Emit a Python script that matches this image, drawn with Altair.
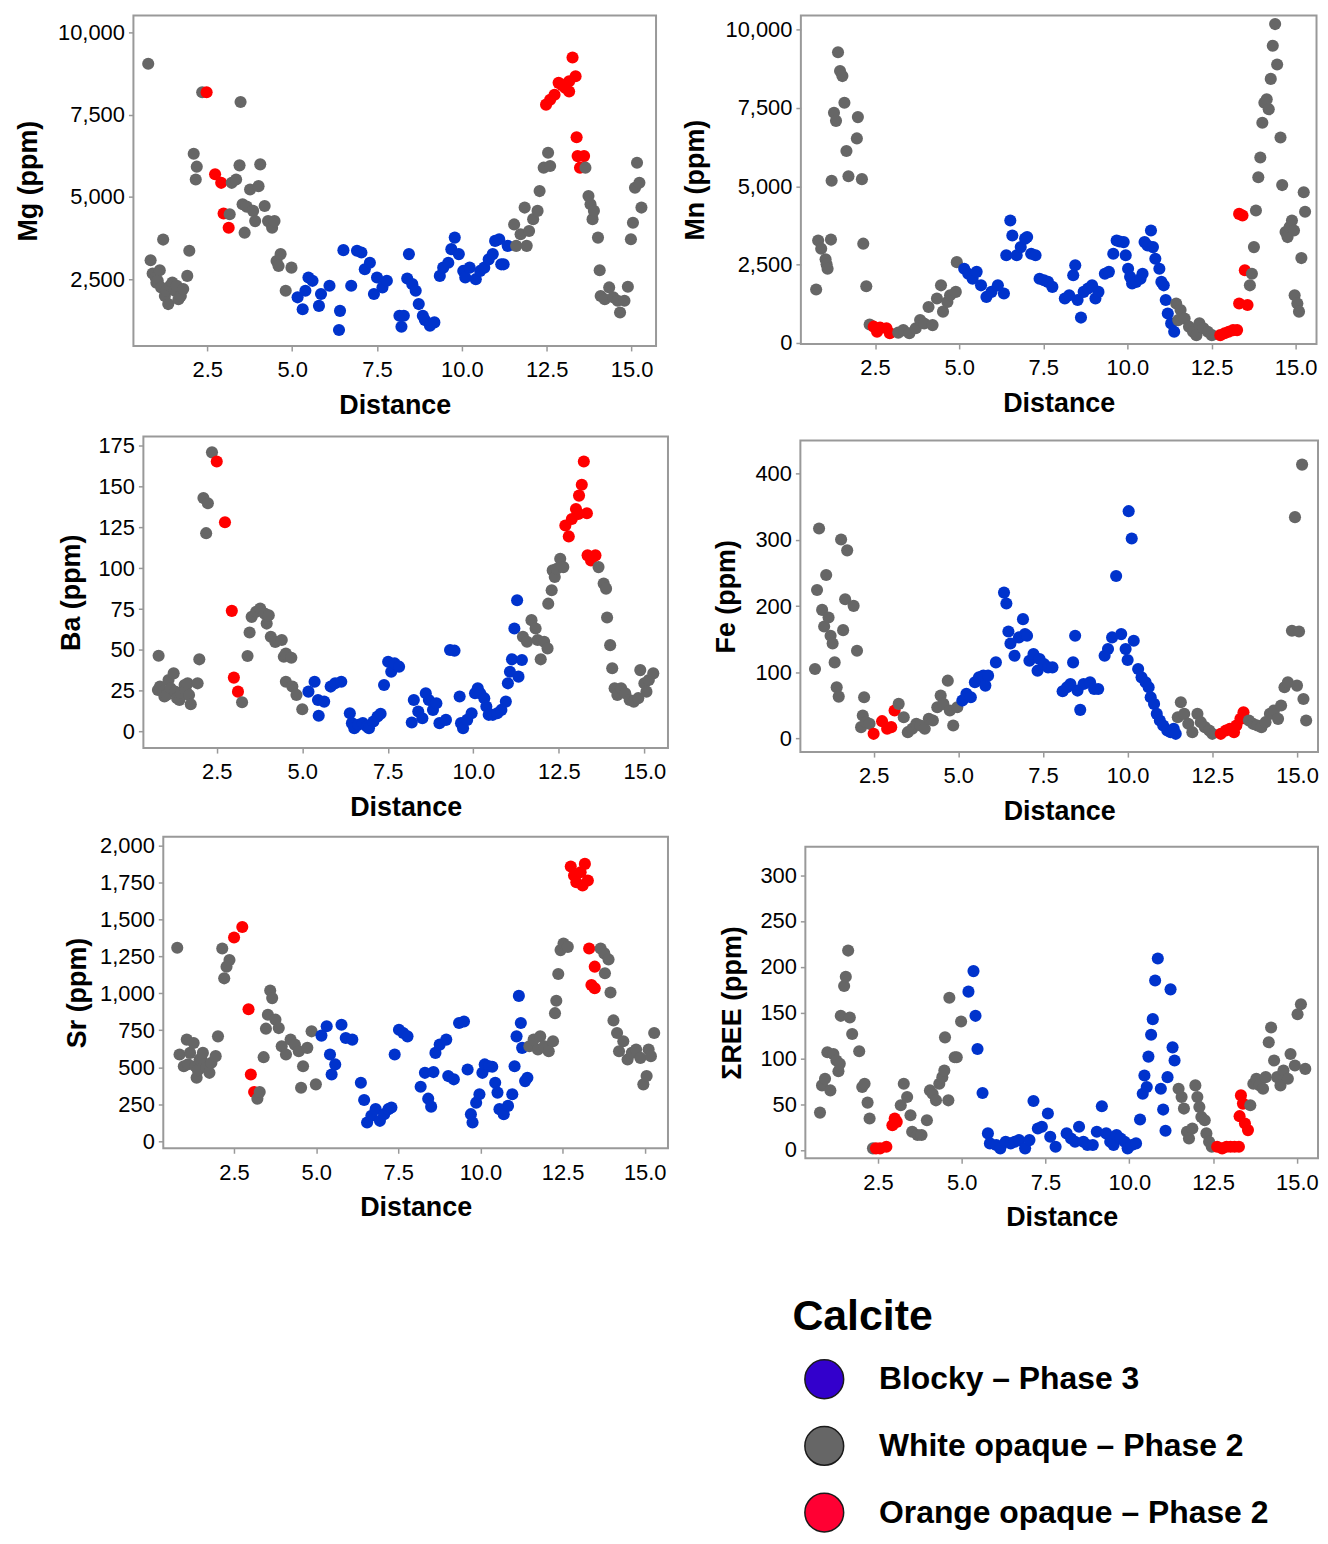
import altair as alt
import pandas as pd

PHASES = ["Blocky – Phase 3", "White opaque – Phase 2", "Orange opaque – Phase 2"]
POINT_COLORS = ["#0033CC", "#666666", "#FF0000"]
LEGEND_COLORS = ["#3300CC", "#666666", "#FF0033"]
LEGEND_TITLE = "Calcite"
X_TICKS = [2.5, 5.0, 7.5, 10.0, 12.5, 15.0]

# ---------------- Mg ----------------
MG_WHITE = [[0.76,9040],[0.83,3085],[0.89,2680],[0.98,2560],[1.0,2400],[1.04,2460],[1.1,2780],[1.14,2260],[1.2,3710],
            [1.25,2000],[1.29,2160],[1.35,1755],[1.4,2300],[1.47,2410],[1.54,2160],[1.6,2310],[1.65,1900],[1.72,2000],
            [1.79,2210],[1.91,2610],[1.97,3370],[2.1,6310],[2.16,5530],[2.19,5920],[2.35,8175],
            [3.16,4480],[3.22,5430],[3.35,5530],[3.45,5960],[3.48,7880],[3.54,4780],[3.6,3920],[3.66,4710],[3.76,5230],
            [3.85,4580],[3.91,4270],[4.01,5330],[4.06,5990],[4.19,4730],[4.29,4270],[4.41,4070],[4.48,4270],[4.54,3060],
            [4.6,2910],[4.66,3270],[4.81,2160],[4.98,2860],
            [11.54,4170],[11.6,3520],[11.73,3870],[11.85,4680],[11.91,3520],[11.98,3970],[12.1,4330],[12.23,4580],
            [12.29,5180],[12.41,5890],[12.54,6340],[12.6,5940],
            [13.64,5890],[13.73,5030],[13.79,4780],[13.85,4330],[13.89,4580],[14.01,3770],[14.06,2780],[14.09,2000],
            [14.21,1900],[14.34,2260],[14.46,1960],[14.59,1855],[14.66,1500],[14.79,1855],[14.89,2280],[14.98,3720],
            [15.04,4220],[15.1,5280],[15.16,6040],[15.23,5430],[15.29,4680]]
MG_ORANGE = [[2.48,8175],[2.73,5690],[2.91,5430],[2.98,4500],[3.13,4070],
             [12.48,7800],[12.6,7950],[12.73,8100],[12.85,8460],[12.95,8400],[13.04,8310],[13.16,8200],[13.16,8510],
             [13.26,9230],[13.35,8660],[13.38,6810],[13.41,6240],[13.48,5890],[13.6,6240]]
MG_BLOCKY = [[5.16,1960],[5.31,1600],[5.39,2160],[5.48,2560],[5.6,2460],[5.79,1700],[5.85,2060],[6.1,2310],[6.38,970],
             [6.41,1550],[6.51,3390],[6.74,2310],[6.91,3370],[7.04,3320],[7.14,2810],[7.29,3010],[7.41,2060],[7.5,2560],
             [7.66,2260],[7.79,2460],[8.16,1400],[8.22,1070],[8.29,1400],[8.39,2530],[8.44,3270],[8.54,2360],[8.64,2160],
             [8.73,1755],[8.85,1400],[8.91,1270],[9.06,1100],[9.19,1200],[9.35,2610],[9.45,2860],[9.6,3010],[9.69,3420],
             [9.79,3770],[9.91,3270],[10.04,2760],[10.1,2560],[10.23,2860],[10.41,2510],[10.54,2760],[10.66,2860],
             [10.79,3110],[10.91,3270],[10.98,3670],[11.1,3720],[11.16,2960],[11.23,2960],[11.35,3520]]

# ---------------- Mn ----------------
MN_WHITE = [[0.75,1705],[0.81,3270],[0.9,3010],[1.03,2670],[1.06,2510],[1.09,2370],[1.19,3300],[1.21,5180],[1.28,7350],
            [1.34,7090],[1.4,9280],[1.46,8680],[1.53,8520],[1.59,7670],[1.65,6130],[1.71,5320],[1.96,6530],[1.99,7210],
            [2.11,5230],[2.15,3170],[2.24,1810],[2.34,590],
            [3.19,330],[3.34,410],[3.52,310],[3.71,470],[3.84,730],[3.96,620],[4.09,1150],[4.21,570],[4.34,1420],
            [4.46,1840],[4.52,1000],[4.65,1310],[4.73,1525],[4.9,1630],[4.93,2580],
            [11.45,1260],[11.51,730],[11.58,1050],[11.7,780],[11.83,520],[11.95,360],[12.05,250],[12.14,625],
            [12.26,470],[12.39,360],[12.51,250],
            [13.64,1840],[13.7,2210],[13.76,3060],[13.82,4230],[13.89,5290],[13.95,5920],[14.01,7030],[14.07,7670],
            [14.14,7780],[14.2,7460],[14.26,8430],[14.32,9490],[14.39,10180],[14.45,8890],[14.55,6560],[14.6,5040],
            [14.7,3540],[14.76,3380],[14.82,3700],[14.89,3910],[14.95,3590],[14.97,1525],[15.05,1260],[15.1,1000],
            [15.17,2710],[15.24,4810],[15.28,4190]]
MN_ORANGE = [[2.46,520],[2.56,360],[2.65,490],[2.84,470],[2.94,310],
             [12.76,250],[12.89,310],[13.01,360],[13.14,410],[13.26,410],[13.32,4120],[13.32,1260],[13.42,4070],
             [13.49,2320],[13.57,1210]]
MN_BLOCKY = [[5.15,2370],[5.27,2210],[5.4,2050],[5.52,2270],[5.65,1840],[5.81,1470],[5.96,1630],[6.15,1840],[6.33,1580],
             [6.4,2800],[6.52,3910],[6.58,3430],[6.71,2800],[6.83,3060],[6.96,3330],[7.02,3380],[7.14,2850],[7.27,2800],
             [7.39,2050],[7.52,2000],[7.64,1950],[7.77,1790],[8.14,1420],[8.27,1525],[8.39,2160],[8.45,2480],[8.52,1370],
             [8.62,810],[8.7,1630],[8.83,1740],[8.95,1840],[9.05,1420],[9.14,1630],[9.33,2210],[9.45,2270],[9.58,2850],
             [9.68,3270],[9.77,3240],[9.89,3220],[9.95,2800],[10.02,2370],[10.08,2110],[10.14,1900],[10.26,1950],
             [10.39,2050],[10.45,2210],[10.51,3220],[10.6,3110],[10.7,3590],[10.76,3060],[10.83,2690],[10.95,2370],
             [11.01,1950],[11.08,1840],[11.14,1370],[11.2,940],[11.3,625],[11.39,360]]

# ---------------- Ba ----------------
BA_WHITE = [[0.78,25.4],[0.8,46.4],[0.84,27.5],[0.94,24.4],[0.97,21.4],[1.03,22.4],[1.09,31.5],[1.15,26.5],[1.24,35.6],
            [1.28,24.4],[1.34,20.4],[1.41,19.3],[1.46,23.8],[1.56,28.5],[1.59,25.4],[1.65,29.5],[1.69,22.4],[1.74,16.7],
            [1.94,29.5],[1.99,44.2],[2.11,143],[2.19,121.5],[2.24,139.8],[2.36,171],
            [3.24,17.9],[3.4,46.2],[3.46,60.6],[3.52,70.2],[3.65,73.3],[3.77,75.3],[3.9,72.2],[3.96,66.1],[4.02,71.2],
            [4.08,58],[4.21,54.9],[4.4,56],[4.46,45.8],[4.52,47.8],[4.52,30.5],[4.68,45.2],[4.71,27.5],[4.83,22.4],[5.0,13.6],
            [11.45,58],[11.57,55],[11.7,68.2],[11.82,63.1],[11.88,56],[11.97,44.2],[12.07,55],[12.17,50.9],[12.19,78.3],
            [12.29,86.5],[12.32,98.7],[12.38,94.6],[12.44,99.7],[12.54,105.8],[12.63,100.7],
            [13.66,100.7],[13.81,90.6],[13.88,87.5],[13.91,69.8],[14.0,52.9],[14.06,38.7],[14.13,26.5],[14.21,22.4],
            [14.32,26.5],[14.44,23.4],[14.57,19.3],[14.69,18.3],[14.82,20.4],[14.88,37.6],[15.0,29.5],[15.06,24.4],
            [15.13,31.5],[15.26,35.6]]
BA_ORANGE = [[2.5,165.4],[2.74,128.2],[2.94,73.9],[3.0,33],[3.12,24.4],
             [12.69,126.2],[12.79,119.5],[12.88,130.2],[13.0,136.3],[13.07,133.3],[13.09,144.5],[13.17,151.2],
             [13.23,165.4],[13.32,133.7],[13.34,107.9],[13.44,104.8],[13.57,107.9]]
BA_BLOCKY = [[5.18,24.4],[5.36,30.5],[5.46,19.3],[5.48,9.6],[5.64,18.3],[5.83,27.5],[5.96,29.5],[6.14,30.5],[6.39,11.2],
             [6.45,5.1],[6.52,2],[6.64,4.1],[6.77,5.1],[6.89,3.1],[6.95,2],[7.08,6.1],[7.2,9.2],[7.29,10.8],[7.39,28.5],
             [7.51,42.7],[7.6,36.6],[7.7,41.7],[7.83,39.7],[8.2,5.5],[8.26,19.3],[8.39,12.2],[8.51,8.1],[8.61,23.4],
             [8.7,19.3],[8.82,13.2],[8.92,17.3],[9.01,5.1],[9.2,7.1],[9.32,49.9],[9.45,49.5],[9.6,21.4],[9.64,5.1],
             [9.7,2],[9.82,7.1],[9.95,11.2],[10.05,23.4],[10.13,26.5],[10.2,23.4],[10.32,20.4],[10.38,15.3],[10.45,10.2],
             [10.57,10.2],[10.7,11.2],[10.82,13.2],[10.95,18.3],[11.01,29.5],[11.07,36.6],[11.13,44.2],[11.2,63.1],
             [11.28,80.4],[11.32,33.6],[11.42,43.8]]

# ---------------- Fe ----------------
FE_WHITE = [[0.77,104.9],[0.83,224.3],[0.89,317.2],[0.98,194.2],[1.04,169.1],[1.1,246.9],[1.17,182.7],[1.23,155.1],
            [1.29,143.5],[1.35,114.9],[1.41,77.3],[1.47,63.2],[1.54,300.6],[1.6,163.6],[1.66,210.3],[1.72,284.1],
            [1.91,200.3],[2.01,132.5],[2.13,17.1],[2.18,34.6],[2.22,62.2],[2.28,24.6],[2.38,22.1],
            [3.24,52.2],[3.39,32.1],[3.51,9.5],[3.64,14.6],[3.76,22.1],[3.88,19.6],[4.01,14.6],[4.13,29.6],[4.25,27.1],
            [4.38,47.2],[4.48,64.7],[4.56,52.2],[4.69,87.3],[4.75,42.2],[4.85,19.6],[4.97,47.2],
            [11.48,32.1],[11.57,54.7],[11.67,37.1],[11.79,22.1],[11.91,9.5],[12.06,37.1],[12.16,24.6],[12.28,17.1],
            [12.41,12],[12.5,7],
            [13.58,27.1],[13.7,22.1],[13.83,19.6],[13.95,17.1],[14.07,24.6],[14.2,37.1],[14.32,42.2],[14.44,29.6],
            [14.53,49.7],[14.63,77.3],[14.73,84.8],[14.85,162.6],[14.94,334.3],[15.0,79.8],[15.06,161.6],[15.15,413.6],
            [15.19,59.7],[15.27,27.1]]
FE_ORANGE = [[2.5,7],[2.75,26.1],[2.9,14.6],[3.02,17.1],[3.12,42.2],
             [12.75,7],[12.9,12],[13.02,14.6],[13.14,9.5],[13.21,19.6],[13.33,29.6],[13.42,39.6]]
FE_BLOCKY = [[5.12,57.2],[5.24,67.3],[5.37,62.2],[5.49,84.8],[5.61,92.3],[5.74,94.9],[5.8,79.8],[5.88,94.9],[6.11,114.9],
             [6.35,220.3],[6.42,203.8],[6.48,161.6],[6.54,143.5],[6.66,125],[6.79,152.6],[6.91,180.2],[6.97,157.6],
             [7.03,155.1],[7.1,117.4],[7.22,127.5],[7.34,102.4],[7.4,119.9],[7.53,112.4],[7.65,107.4],[7.78,107.4],
             [8.08,71.3],[8.21,77.3],[8.31,82.3],[8.39,114.9],[8.45,155.1],[8.52,72.3],[8.6,43.2],[8.7,82.3],[8.89,84.8],
             [9.01,74.8],[9.13,74.8],[9.32,125],[9.42,135],[9.54,152.6],[9.66,245.4],[9.81,157.6],[9.94,135],[10.0,118.4],
             [10.03,343.3],[10.12,302.1],[10.18,147.6],[10.31,104.9],[10.41,92.3],[10.53,84.8],[10.62,77.3],[10.68,62.2],
             [10.78,52.2],[10.86,37.1],[10.95,27.1],[11.05,19.6],[11.17,12],[11.27,9.5],[11.36,14.6],[11.42,7]]

# ---------------- Sr ----------------
SR_WHITE = [[0.77,1309],[0.84,586],[0.97,507],[1.06,687],[1.1,520],[1.16,597],[1.27,664],[1.32,507],[1.36,429],[1.4,480],
            [1.45,552],[1.5,560],[1.55,597],[1.66,496],[1.75,462],[1.81,530],[1.94,575],[2.01,709],[2.14,1304],[2.2,1102],
            [2.27,1181],[2.36,1226],
            [3.21,287],[3.28,332],[3.4,568],[3.47,761],[3.53,855],[3.6,1019],[3.66,968],[3.76,822],[3.86,765],[3.95,642],
            [4.08,586],[4.22,687],[4.35,653],[4.47,608],[4.54,361],[4.6,507],[4.73,631],[4.86,743],[4.99,384],
            [11.49,642],[11.62,687],[11.75,620],[11.82,709],[11.95,642],[12.08,608],[12.21,676],[12.27,866],[12.31,950],
            [12.37,1131],[12.44,1293],[12.53,1338],[12.66,1315],
            [13.66,1304],[13.77,1271],[13.79,1136],[13.9,1230],[13.96,1006],[14.05,817],[14.16,732],[14.22,608],
            [14.35,676],[14.48,552],[14.61,597],[14.74,620],[14.87,563],[14.96,384],[15.06,440],[15.12,620],[15.19,575],
            [15.29,732]]
SR_ORANGE = [[2.5,1378],[2.75,1450],[2.94,893],[3.01,451],[3.11,332],
             [12.75,1859],[12.85,1798],[12.92,1753],[13.05,1820],[13.11,1731],[13.18,1877],[13.27,1764],[13.31,1304],
             [13.38,1057],[13.48,1181],[13.48,1035]]
SR_BLOCKY = [[5.16,714],[5.32,777],[5.42,586],[5.47,451],[5.58,519],[5.77,788],[5.9,698],[6.1,687],[6.36,395],[6.46,278],
             [6.55,126],[6.68,171],[6.81,216],[6.94,137],[7.07,182],[7.2,216],[7.29,227],[7.39,586],[7.52,754],[7.65,732],
             [7.78,709],[8.18,368],[8.31,462],[8.41,287],[8.5,233],[8.57,467],[8.63,597],[8.76,653],[8.96,687],[9.02,440],
             [9.19,418],[9.35,799],[9.5,810],[9.61,485],[9.71,182],[9.76,126],[9.87,260],[9.97,317],[10.06,462],[10.13,519],
             [10.26,507],[10.36,503],[10.45,395],[10.52,328],[10.58,216],[10.71,182],[10.84,238],[10.97,317],[11.04,507],
             [11.1,709],[11.17,983],[11.23,799],[11.27,631],[11.36,406],[11.43,429]]

# ---------------- ΣREE ----------------
REE_WHITE = [[0.77,40.8],[0.83,70.5],[0.92,77.7],[0.99,106.6],[1.08,65],[1.17,104.8],[1.26,97.6],[1.32,86],[1.36,94],
             [1.39,146.4],[1.49,178.9],[1.54,189],[1.61,217.6],[1.66,144.6],[1.73,126.5],[1.94,107.7],[2.03,68.7],
             [2.1,72.3],[2.19,51.7],[2.25,34.3],[2.35,1.8],
             [3.18,48.8],[3.27,72.3],[3.37,57.8],[3.47,37.9],[3.52,19.9],[3.68,16.3],[3.8,16.3],[3.96,32.5],[4.05,65],
             [4.13,61.4],[4.23,54.2],[4.33,72.3],[4.42,79.5],[4.48,86.7],[4.5,122.9],[4.6,54.2],[4.63,166.2],[4.79,101.2],
             [4.85,101.2],[4.98,140.2],
             [11.47,66.9],[11.56,57.8],[11.63,45.2],[11.72,19.9],[11.78,12.6],[11.88,23.5],[11.97,70.5],[12.03,57.8],
             [12.09,47],[12.15,36.1],[12.25,32.5],[12.3,18.1],[12.38,9],[12.46,3.6],
             [13.61,48.8],[13.7,72.3],[13.79,77.7],[13.89,70.5],[13.99,66.9],[14.07,79.5],[14.16,117.5],[14.23,133.7],
             [14.32,97.6],[14.41,79.5],[14.51,70.5],[14.6,86.7],[14.73,77.7],[14.81,104.8],[14.94,92.2],[15.02,148.2],
             [15.12,159],[15.25,88.5]]
REE_ORANGE = [[2.44,1.8],[2.56,1.8],[2.75,3.6],[2.93,27.1],[3.0,34.3],[3.06,30.7],
              [12.62,3.6],[12.77,1.8],[12.9,3.6],[13.02,3.6],[13.14,3.6],[13.27,3.6],[13.29,36.9],[13.33,59.6],
              [13.39,50.6],[13.45,28.9],[13.54,21.7]]
REE_BLOCKY = [[5.2,172.8],[5.35,195.2],[5.41,146.4],[5.47,110.2],[5.62,62.2],[5.78,18.1],[5.84,7.2],[6.03,5.4],[6.15,1.8],
              [6.31,9],[6.46,7.2],[6.58,9],[6.71,10.8],[6.89,1.8],[7.02,10.8],[7.14,53.5],[7.27,23.5],[7.39,25.3],
              [7.57,39.8],[7.64,14.5],[7.8,3.6],[8.13,18.1],[8.26,12.6],[8.38,9],[8.5,25.3],[8.63,9],[8.75,5.4],[8.91,5.4],
              [9.03,19.9],[9.18,47.7],[9.31,18.1],[9.43,9],[9.53,5.4],[9.62,16.3],[9.74,12.6],[9.86,9],[9.95,1.8],
              [10.07,5.4],[10.2,7.2],[10.32,33.2],[10.4,61.4],[10.45,81.3],[10.52,68.7],[10.57,101.9],[10.65,125.8],
              [10.7,142.8],[10.77,185],[10.85,208.9],[10.94,66.9],[11.01,44.1],[11.08,21],[11.14,79.5],[11.23,175.3],
              [11.29,112],[11.35,97.6]]

FONT = "Liberation Sans"


def frame(blocky, white, orange):
    rows = []
    for phase, pts in zip(PHASES, [blocky, white, orange]):
        for d, v in pts:
            rows.append({"dist": d, "val": v, "phase": phase})
    df = pd.DataFrame(rows).sort_values("dist", kind="stable").reset_index(drop=True)
    df["ord"] = range(len(df))
    return df


def panel(title, blocky, white, orange, xdom, ydom, yticks, width, height, ext):
    df = frame(blocky, white, orange)
    return alt.Chart(df).mark_circle(size=148, opacity=1, clip=True).encode(
        x=alt.X("dist:Q", scale=alt.Scale(domain=xdom, nice=False, zero=False),
                axis=alt.Axis(values=X_TICKS, format=".1f", title="Distance", labelFlush=False,
                              labelOverlap=False)),
        y=alt.Y("val:Q", scale=alt.Scale(domain=ydom, nice=False, zero=False),
                axis=alt.Axis(values=yticks, format=",.0f", title=title, minExtent=ext, maxExtent=ext,
                              labelOverlap=False)),
        color=alt.Color("phase:N", scale=alt.Scale(domain=PHASES, range=POINT_COLORS), legend=None),
        order=alt.Order("ord:Q"),
    ).properties(width=width, height=height)


def spacer(w, h=4):
    return alt.Chart(pd.DataFrame({"s": [0]})).mark_point(size=1, opacity=0).encode(
        x=alt.value(0.5), y=alt.value(0.5)
    ).properties(width=w, height=h, view=alt.ViewBackground(stroke="transparent", strokeWidth=0))


def lead(w, chart):
    # horizontal offset: empty cell of width w before the panel
    return alt.hconcat(spacer(w), chart, spacing=0)


def drop(dy, chart):
    # vertical offset: empty cell of height 1 above the panel
    return alt.vconcat(spacer(1, 1), chart, spacing=dy - 1)


mg = panel("Mg (ppm)", MG_BLOCKY, MG_WHITE, MG_ORANGE, [0.324, 15.72], [486, 10503],
           [2500, 5000, 7500, 10000], 525, 332, 91)
mn = panel("Mn (ppm)", MN_BLOCKY, MN_WHITE, MN_ORANGE, [0.296, 15.62], [-32, 10455],
           [0, 2500, 5000, 7500, 10000], 518, 330, 92)
ba = panel("Ba (ppm)", BA_BLOCKY, BA_WHITE, BA_ORANGE, [0.355, 15.69], [-10.2, 180.7],
           [0, 25, 50, 75, 100, 125, 150, 175], 527, 313, 58)
fe = panel("Fe (ppm)", FE_BLOCKY, FE_WHITE, FE_ORANGE, [0.338, 15.62], [-20.6, 450],
           [0, 100, 200, 300, 400], 520, 313, 60)
sr = panel("Sr (ppm)", SR_BLOCKY, SR_WHITE, SR_ORANGE, [0.345, 15.71], [-49, 2061],
           [0, 250, 500, 750, 1000, 1250, 1500, 1750, 2000], 507, 313, 72)
ree = panel("ΣREE (ppm)", REE_BLOCKY, REE_WHITE, REE_ORANGE, [0.333, 15.63], [-9, 331],
            [0, 50, 100, 150, 200, 250, 300], 515, 313, 59)

# ---------------- legend ----------------
leg_df = pd.DataFrame({"label": PHASES, "color": LEGEND_COLORS})
leg_base = alt.Chart(leg_df).encode(
    y=alt.Y("label:N", sort=PHASES, axis=None,
            scale=alt.Scale(type="point", range=[140, 274], padding=0))
)
leg_circles = leg_base.mark_circle(size=1520, opacity=1, stroke="#1a1a1a", strokeWidth=1.5).encode(
    x=alt.value(815), color=alt.Color("color:N", scale=None)
)
leg_text = leg_base.mark_text(align="left", baseline="middle", fontSize=32, fontWeight="bold",
                              font=FONT, color="#000000").encode(x=alt.value(870), text="label:N")
leg_title = alt.Chart(pd.DataFrame({"t": [LEGEND_TITLE]})).mark_text(
    align="left", baseline="alphabetic", fontSize=43, fontWeight="bold", font=FONT, color="#000000"
).encode(x=alt.value(783), y=alt.value(91), text="t:N")
legend = alt.layer(leg_title, leg_circles, leg_text).properties(
    width=1290, height=296, view=alt.ViewBackground(stroke="transparent", strokeWidth=0)
)

row1 = alt.hconcat(lead(1, mg), mn, spacing=23.5)
row2 = alt.hconcat(lead(44, ba), drop(3, fe), spacing=43)
row3 = alt.hconcat(lead(50, sr), drop(9, ree), spacing=49)

top = alt.vconcat(row1, row2, spacing=14)
chart = alt.vconcat(top, row3, legend, spacing=8).properties(
    padding={"left": 5, "top": 3, "right": 0, "bottom": 0}
).configure_view(
    stroke="#999999", strokeWidth=2
).configure_axis(
    labelFont=FONT, labelFontSize=22, labelColor="#000000",
    titleFont=FONT, titleFontSize=27, titleFontWeight="bold", titleColor="#000000",
    tickColor="#999999", tickSize=5, tickWidth=1.5, domain=False, grid=False,
).configure_axisX(
    labelPadding=9, titlePadding=12
).configure_axisY(
    labelPadding=4, titlePadding=0
)

chart.save("out.html", embed_options={"renderer": "svg", "actions": False})
